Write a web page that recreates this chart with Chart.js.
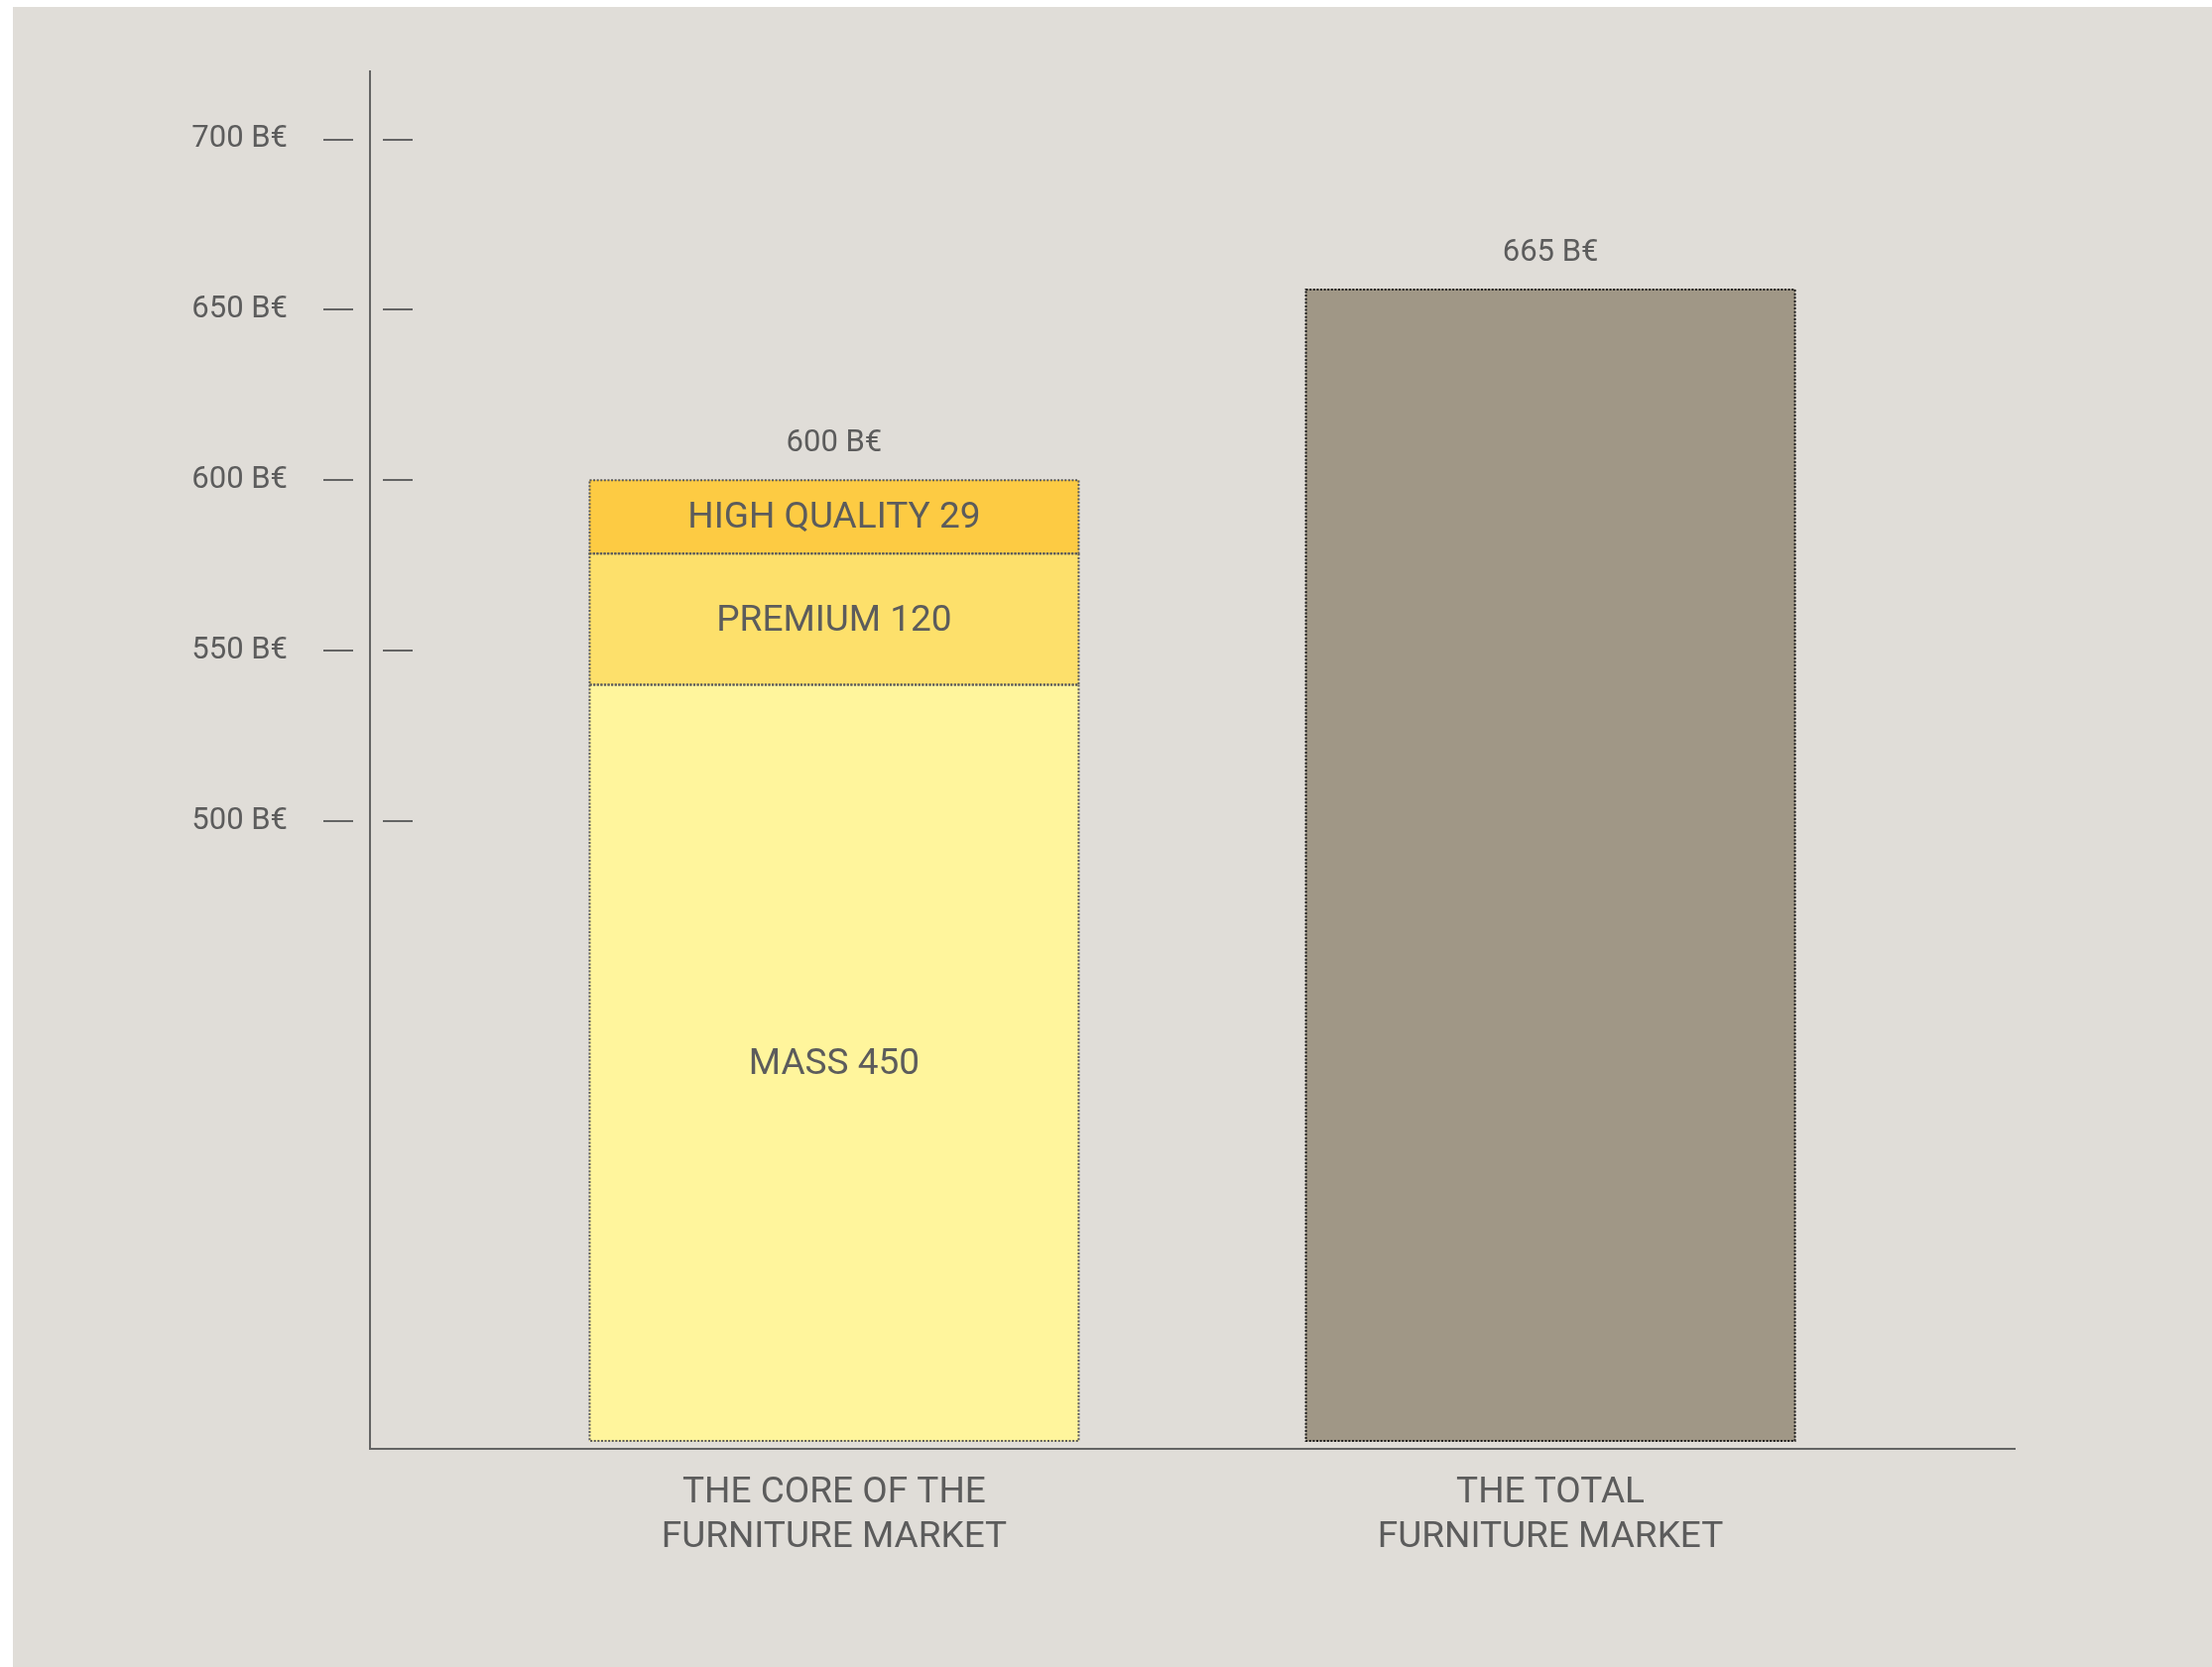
<!DOCTYPE html>
<html>
<head>
<meta charset="utf-8">
<script src="https://cdn.jsdelivr.net/npm/chart.js@4.4.1/dist/chart.umd.min.js"></script>
<style>
	html, body { margin: 0; padding: 0; background: #ffffff; }
	#frame { position: absolute; left: 13px; top: 7px; width: 2217px; height: 1674px; background: #e0ddd8; }
	canvas { display: block; }
</style>
</head>
<body>
<div id="frame"><canvas id="chart" width="2217" height="1674"></canvas></div>
<script>
// Data
const categories = [["THE CORE OF THE", "FURNITURE MARKET"], ["THE TOTAL", "FURNITURE MARKET"]];
const barTotals = ["600 B€", "665 B€"];
// floating segments [from, to], read against the cut value axis
const massBar = [[318, 540], null];
const premiumBar = [[540, 578.5], null];
const highQualityBar = [[578.5, 600], null];
const totalBar = [null, [318, 656]];
const yTicks = [500, 550, 600, 650, 700];
const yMin = 315.7;
const yMax = 720;

const textColor = "#5c5c5c";
const axisColor = "#646464";
const family = "Roboto, 'Open Sans', sans-serif";

const toPoints = (bars) => bars.map((v, i) => v && { x: i, y: v }).filter(Boolean);

function segment(label, bars, color, edge) {
	return {
		label: label,
		data: toPoints(bars),
		backgroundColor: color,
		borderWidth: 0,
		barThickness: 493,
		grouped: false,
		edgeColor: edge,
	};
}

// dotted outlines, labels in segments and totals over the bars
const barDecor = {
	id: "barDecor",
	afterDatasetsDraw(chart) {
		const ctx = chart.ctx;
		const tops = {};
		ctx.save();
		chart.data.datasets.forEach((ds, di) => {
			const meta = chart.getDatasetMeta(di);
			meta.data.forEach((bar, j) => {
				const cat = ds.data[j].x;
				const left = bar.x - bar.width / 2;
				const top = Math.min(bar.y, bar.base);
				const bottom = Math.max(bar.y, bar.base);
				ctx.setLineDash([2, 1.6]);
				ctx.lineWidth = 2;
				ctx.strokeStyle = ds.edgeColor;
				ctx.strokeRect(left, top, bar.width, bottom - top);
				ctx.setLineDash([]);
				if (ds.label) {
					ctx.fillStyle = textColor;
					ctx.font = "37px " + family;
					ctx.textAlign = "center";
					ctx.textBaseline = "middle";
					ctx.fillText(ds.label, bar.x, (top + bottom) / 2 + 2);
				}
				if (tops[cat] === undefined || top < tops[cat].top) {
					tops[cat] = { x: bar.x, top: top };
				}
			});
		});
		ctx.fillStyle = textColor;
		ctx.font = "31px " + family;
		ctx.textAlign = "center";
		ctx.textBaseline = "middle";
		Object.keys(tops).forEach((cat) => {
			ctx.fillText(barTotals[cat], tops[cat].x, tops[cat].top - 37);
		});
		ctx.restore();
	},
};

// the small dashes either side of the value axis
const tickDashes = {
	id: "tickDashes",
	afterDraw(chart) {
		const { ctx, chartArea, scales } = chart;
		ctx.save();
		ctx.strokeStyle = axisColor;
		ctx.lineWidth = 2;
		yTicks.forEach((v) => {
			const py = Math.round(scales.y.getPixelForValue(v));
			ctx.beginPath();
			ctx.moveTo(chartArea.left - 47, py);
			ctx.lineTo(chartArea.left - 17, py);
			ctx.moveTo(chartArea.left + 13, py);
			ctx.lineTo(chartArea.left + 43, py);
			ctx.stroke();
		});
		ctx.restore();
	},
};

const myChart = new Chart(document.getElementById("chart"), {
	type: "bar",
	data: {
		datasets: [
			segment("MASS 450", massBar, "#fff59c", "#5a5a5a"),
			segment("PREMIUM 120", premiumBar, "#fde06b", "#5a5a5a"),
			segment("HIGH QUALITY 29", highQualityBar, "#fdcb43", "#5a5a5a"),
			segment("", totalBar, "#a09786", "#1e1e1e"),
		],
	},
	options: {
		responsive: false,
		animation: false,
		layout: {
			padding: { top: 65, right: 199, bottom: 0, left: 0 },
		},
		plugins: {
			legend: { display: false },
			tooltip: { enabled: false },
		},
		scales: {
			x: {
				type: "linear",
				offset: false,
				min: -0.648,
				max: 1.648,
				afterBuildTicks: (axis) => {
					axis.ticks = categories.map((c, i) => ({ value: i }));
				},
				afterFit: (axis) => {
					axis.height = 220;
				},
				grid: { display: false, drawTicks: false, offset: false },
				border: { display: true, color: axisColor, width: 2 },
				ticks: {
					callback: (v) => categories[v],
					color: textColor,
					font: { family: family, size: 37, lineHeight: 1.2 },
					padding: 23,
					maxRotation: 0,
					autoSkip: false,
				},
			},
			y: {
				min: yMin,
				max: yMax,
				afterBuildTicks: (axis) => {
					axis.ticks = yTicks.map((v) => ({ value: v }));
				},
				afterFit: (axis) => {
					axis.width = 360;
				},
				// invisible tick marks keep the labels away from the axis line
				grid: {
					display: true,
					drawOnChartArea: false,
					drawTicks: true,
					tickLength: 83,
					tickColor: "rgba(0,0,0,0)",
				},
				border: { display: true, color: axisColor, width: 2 },
				ticks: {
					callback: (v) => v + " B€",
					color: textColor,
					font: { family: family, size: 31 },
					padding: 0,
				},
			},
		},
	},
	plugins: [barDecor, tickDashes],
});
</script>
</body>
</html>
